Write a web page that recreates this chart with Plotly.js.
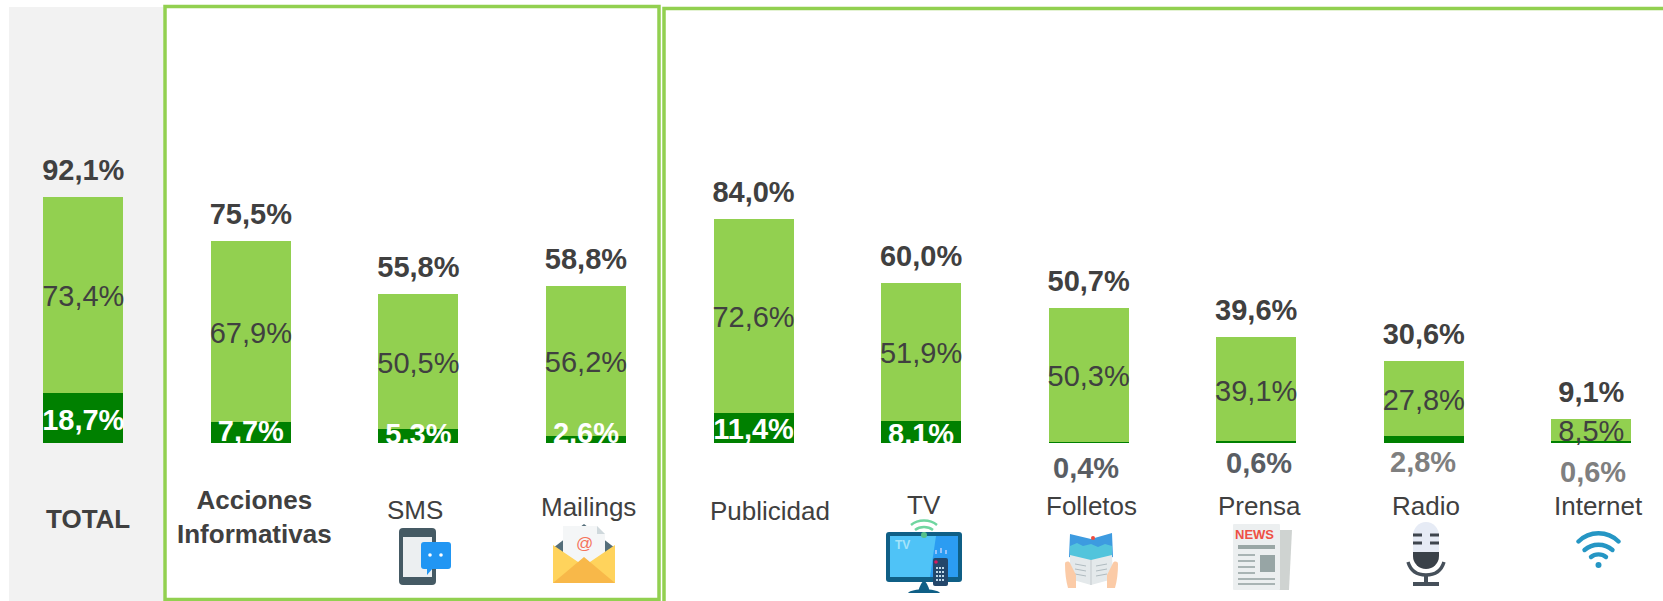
<!DOCTYPE html>
<html><head><meta charset="utf-8">
<script src="https://cdn.plot.ly/plotly-3.0.1.min.js"></script>
<style>html,body{margin:0;padding:0;background:#fff;overflow:hidden}</style>
</head><body><div id="chart" style="width:1663px;height:601px"></div>
<script>
// ---- data ----
const categories = ['TOTAL','Acciones Informativas','SMS','Mailings','Publicidad','TV','Folletos','Prensa','Radio','Internet'];
const totalValues = [92.1,75.5,55.8,58.8,84.0,60.0,50.7,39.6,30.6,9.1];
const lightLabels = [73.4,67.9,50.5,56.2,72.6,51.9,50.3,39.1,27.8,8.5];
const darkValues  = [18.7,7.7,5.3,2.6,11.4,8.1,0.4,0.6,2.8,0.6];

// ---- layout helpers (full-page pixels) ----
const W=1663,H=601,BASE=443,PXU=2.67;
const px=x=>x/W, py=y=>(BASE-y)/BASE;
const fmt=v=>v.toFixed(1).replace('.',',')+'%';
const FONT='"Liberation Sans", Arial, sans-serif';
const TXT='#404040', LIGHT='#92D050', DARK='#008000';
const TEXT_DROP=4/PXU; // scatter text sits about 4px high of its anchor

const insideDark=[true,true,true,true,true,true,false,false,false,false];
const darkCentrePx=[419,430,432.7,431.6,428,432.3];
const outsideDark={6:{x:1085.7,y:467.7,c:'#595D63'},7:{x:1258.7,y:462.7,c:'#595D63'},8:{x:1423.3,y:462,c:'#7F7F7F'},9:{x:1593,y:471.7,c:'#7F7F7F'}};
const labelPos=[[87.5,518.5],[254,516.5],[415,510],[588.5,507],[770,511],[924,505],[1091.5,506],[1259,506],[1426,506],[1598.7,506]];

const lightRemainder=totalValues.map((t,i)=>+(t-darkValues[i]).toFixed(1));

const traces=[
 {type:'bar',x:categories,y:darkValues,width:0.477,marker:{color:DARK},hoverinfo:'skip'},
 {type:'bar',x:categories,y:lightRemainder,width:0.477,marker:{color:LIGHT},hoverinfo:'skip'},
 {type:'scatter',mode:'text',x:categories,y:totalValues.map(v=>v+10.6-TEXT_DROP),text:totalValues.map(fmt),
  textposition:'middle center',textfont:{family:FONT,size:29,color:TXT,weight:700},hoverinfo:'skip',cliponaxis:false},
 {type:'scatter',mode:'text',x:categories,y:totalValues.map((t,i)=>(t+darkValues[i])/2-TEXT_DROP),text:lightLabels.map(fmt),
  textposition:'middle center',textfont:{family:FONT,size:29,color:TXT},hoverinfo:'skip',cliponaxis:false},
 {type:'scatter',mode:'text',x:categories.filter((c,i)=>insideDark[i]),
  y:darkCentrePx.map(p=>(BASE-p)/PXU-TEXT_DROP),text:darkValues.filter((v,i)=>insideDark[i]).map(fmt),
  textposition:'middle center',textfont:{family:FONT,size:29,color:'#FFFFFF',weight:700},hoverinfo:'skip',cliponaxis:true}
];

const annotations=[];
categories.forEach((c,i)=>{
  const bold=i<2;
  annotations.push({xref:'paper',yref:'paper',x:px(labelPos[i][0]),y:py(labelPos[i][1]),xanchor:'center',yanchor:'middle',
    text:(i===1?'Acciones<br>Informativas':c),showarrow:false,align:'center',
    font:{family:FONT,size:26,color:TXT,weight:bold?700:400}});
});
Object.keys(outsideDark).forEach(k=>{const o=outsideDark[k];
  annotations.push({xref:'paper',yref:'paper',x:px(o.x),y:py(o.y),xanchor:'center',yanchor:'middle',
    text:fmt(darkValues[k]),showarrow:false,font:{family:FONT,size:29,color:o.c,weight:700}});
});

// ---- icons ----
const svg=(w,h,b)=>'data:image/svg+xml,'+encodeURIComponent(`<svg xmlns="http://www.w3.org/2000/svg" width="${w}" height="${h}" viewBox="0 0 ${w} ${h}">${b}</svg>`);
const icons=[
 {x:399,y:528,w:52,h:57,b:`<rect width="37" height="57" rx="4" fill="#455A64"/><rect x="4" y="9" width="29" height="40" fill="#ECEFF1"/>
   <rect x="22" y="14" width="30" height="27" rx="3" fill="#2196F3"/><path d="M28 40h6l-6 7z" fill="#2196F3"/><circle cx="31" cy="27" r="1.8" fill="#fff"/><circle cx="42" cy="27" r="1.8" fill="#fff"/>`},
 {x:553,y:524,w:62,h:59,b:`<path d="M0 24L31 0l31 24v10H0z" fill="#546E7A"/><path d="M10 2h34l8 8v36H10z" fill="#F4F6F7"/><path d="M44 2l8 8h-8z" fill="#CFD8DC"/>
   <path d="M0 21L31 42 62 21v38H0z" fill="#FFD35C"/><path d="M0 59L31 33l31 26z" fill="#F8B849"/>`},
 {x:886,y:518,w:76,h:75,b:`<path d="M32 75c1-6 3-9 5-12h2c2 3 4 6 5 12z" fill="#0F5F86"/><path d="M22 75c4-5 28-5 32 0z" fill="#0F5F86"/>
   <rect y="14" width="76" height="50" rx="3" fill="#0F5F86"/><rect x="4" y="18" width="68" height="41" fill="#4FC3F7"/><path d="M50 18h22v41H44z" fill="#2B9CF2"/>
   <path d="M25 7c7-6 19-6 26 0M29 12c5-4 13-4 18 0" fill="none" stroke="#6FD6A0" stroke-width="2.4"/><circle cx="38" cy="17" r="3" fill="#56C08A"/>
   <rect x="47" y="40" width="15" height="28" rx="2" fill="#24476B"/><circle cx="50" cy="44" r="1.8" fill="#D81B60"/><path d="M50 50h9M50 54h9M50 58h9M50 62h9" stroke="#BFD8E8" stroke-width="2" stroke-dasharray="2 1"/>
   <path d="M50 36v-4M55 35v-5M60 36v-4" stroke="#DDF" stroke-width="1.2"/>`},
 {x:1065,y:529,w:53,h:59,b:`<path d="M5 5l21 5 21-6 1 24-22 6-22-6z" fill="#3D9BE0"/><path d="M5 17l7-3 6 3 8-2 7 3 7-3 7 2v12l-22 6-20-6z" fill="#52C4DC"/>
   <path d="M5 26l21 5 21-5 1 24-22 6-21-6z" fill="#E4E9EB"/><path d="M26 31v25" stroke="#C9CFD2" stroke-width="1.2"/>
   <path d="M10 35l11 2M10 40l11 2M10 45l11 2M31 37l11-2M31 42l11-2M31 47l11-2" stroke="#B0BBC0" stroke-width="1"/><circle cx="28" cy="9" r="2" fill="#EF4B3C"/>
   <path d="M0 35c0-3 4-3 5-1l6 12v13H3C1 52 0 44 0 35zM53 35c0-3-4-3-5-1l-6 12v13h8c2-7 3-15 3-24z" fill="#FBCBA7"/>`},
 {x:1233,y:524,w:59,h:66,b:`<path d="M42 6h17l-3 60H42z" fill="#CFD3D1"/><rect width="47" height="66" rx="1" fill="#ECEFF0"/>
   <rect x="5" y="21" width="37" height="4" fill="#9AA7A6"/><rect x="27" y="31" width="15" height="17" fill="#97A5A5"/>
   <path d="M5 31h17M5 37h17M5 43h17M5 49h17M5 55h37M5 60h37" stroke="#A9B4B4" stroke-width="2"/>`},
 {x:1406,y:522,w:40,h:64,b:`<path d="M7 14a13 14 0 0 1 26 0v16H7z" fill="#E6EBF5"/><path d="M7 30h26v4a13 13 0 0 1-26 0z" fill="#3A4149"/>
   <path d="M7 13h9M24 13h9M7 21h9M24 21h9" stroke="#3E454D" stroke-width="3"/>
   <path d="M2 40c3 10 10 13 18 13s15-3 18-13" fill="none" stroke="#46505A" stroke-width="3.4"/><rect x="18" y="52" width="4" height="9" fill="#46505A"/><rect x="7" y="60" width="26" height="4" fill="#46505A"/>`},
 {x:1576,y:529,w:45,h:40,b:`<g fill="none" stroke="#2596C4" stroke-width="4.4" stroke-linecap="round"><path d="M2.5 12.5c11-11 29-11 40 0"/><path d="M8.5 21c8-7 20-7 28 0"/><path d="M15 28c4-3.5 11-3.5 15 0"/></g><circle cx="22.5" cy="36" r="3" fill="#2596C4"/>`}
];
const images=icons.map(k=>({source:svg(k.w,k.h,k.b),xref:'paper',yref:'paper',x:px(k.x),y:py(k.y),sizex:k.w/W,sizey:k.h/BASE,
  xanchor:'left',yanchor:'top',sizing:'stretch',layer:'above'}));
// text that belongs to the icons
annotations.push({xref:'paper',yref:'paper',x:px(1254),y:py(534),xanchor:'center',yanchor:'middle',text:'NEWS',showarrow:false,font:{family:FONT,size:13,color:'#EF5044',weight:700}});
annotations.push({xref:'paper',yref:'paper',x:px(902),y:py(545),xanchor:'center',yanchor:'middle',text:'TV',showarrow:false,font:{family:FONT,size:12,color:'#A5E4FA',weight:700}});
annotations.push({xref:'paper',yref:'paper',x:px(584),y:py(543.5),xanchor:'center',yanchor:'middle',text:'@',showarrow:false,font:{family:FONT,size:17,color:'#F4735B'}});

const box=(x0,y0,x1,y1,fill,line,lw)=>({type:'rect',xref:'paper',yref:'paper',x0:px(x0),x1:px(x1),y0:py(y0),y1:py(y1),layer:'below',
  fillcolor:fill,line:{color:line,width:lw}});
const shapes=[
 box(9,7,163,601,'#F2F2F2','rgba(0,0,0,0)',0),
 box(165,6.5,659,599.5,'rgba(0,0,0,0)','#92D050',3.5),
 box(664,8.5,1680,640,'rgba(0,0,0,0)','#92D050',3.5)
];

Plotly.newPlot('chart',traces,{
  width:W,height:H,margin:{l:0,r:0,t:0,b:H-BASE,pad:0},autosize:false,showlegend:false,
  barmode:'stack',paper_bgcolor:'#FFFFFF',plot_bgcolor:'rgba(0,0,0,0)',
  xaxis:{type:'category',range:[-83.3/167.56,(W-83.3)/167.56],visible:false,fixedrange:true},
  yaxis:{range:[0,BASE/PXU],visible:false,fixedrange:true},
  shapes,annotations,images
},{displayModeBar:false,staticPlot:true});
</script></body></html>
